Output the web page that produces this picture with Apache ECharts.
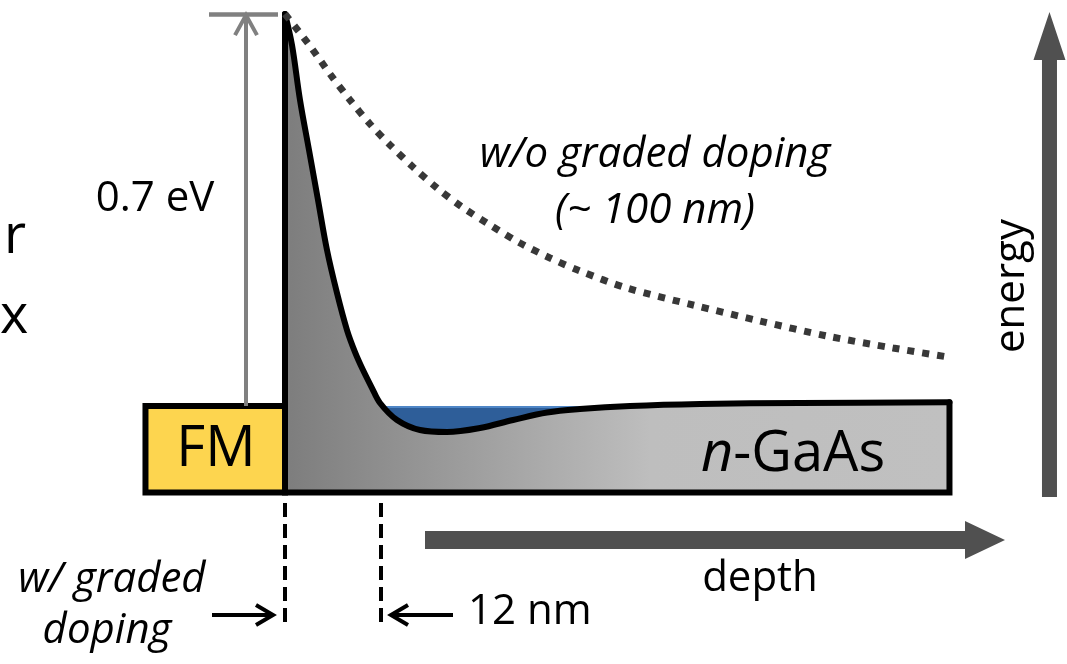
<!DOCTYPE html>
<html>
<head>
<meta charset="utf-8">
<script src="https://cdn.jsdelivr.net/npm/echarts@6/dist/echarts.min.js"></script>
<style>
html,body{margin:0;padding:0;background:#fff;}
#chart{width:1067px;height:664px;}
</style>
</head>
<body>
<div id="chart"></div>
<script>
// ---- data (depth in nm, energy in eV; Fermi level ~ 0) ----
const bandDepth  = [0, 0.875, 1.875, 3.0, 4.125, 5.25, 6.5, 7.75, 8.75, 9.75, 10.875, 11.875, 14.0, 16.875, 20.25, 24.375, 28.5, 32.75, 36.875, 43.125, 51.875, 64.375, 83.06];
const bandEnergy = [0.700, 0.6446, 0.5464, 0.4571, 0.3679, 0.2786, 0.2018, 0.1357, 0.0964, 0.0643, 0.0321, 0.0054, -0.025, -0.0429, -0.0464, -0.0393, -0.025, -0.0116, -0.0054, 0.0, 0.0036, 0.0054, 0.0066];
const dottedDepth  = [0, 3.125, 5.625, 8.125, 10.625, 13.125, 16.0, 19.0, 22.125, 25.625, 29.375, 33.125, 36.875, 42.75, 51.0, 59.375, 67.75, 76.0, 82.875];
const dottedEnergy = [0.700, 0.6429, 0.5929, 0.5464, 0.5036, 0.4661, 0.4268, 0.3893, 0.3554, 0.3232, 0.2911, 0.2643, 0.2411, 0.2107, 0.1804, 0.1518, 0.125, 0.1036, 0.0875];
const fmLeft = -17.44;
const bandBottom = -0.1545;
const gaasRight = 83.06;
const fermiLevel = -0.002;
const barrierHeight = 0.7;
const blueRange = [11, 45];
const markerDepths = [0, 12];
const markerRange = [-0.1732, -0.3946];
const energyArrow = [95.56, -0.1625, 95.56, 0.7036];
const depthArrow = [17.5, -0.2393, 90.0, -0.2393];
const barrierArrow = [-4.875, 0, -4.875, 0.698];
const barrierCap = [-9.5, -0.875];
const pointerLeft = [-9.125, -0.3732, -1.5, -0.3732];
const pointerRight = [21, -0.3732, 13.25, -0.3732];

const FONT = "'Open Sans', 'DejaVu Sans', sans-serif";

const chart = echarts.init(document.getElementById('chart'), null, {renderer: 'canvas'});

const thickStyles = [
  {w: 15, L: 48, H: 16},
  {w: 18, L: 40, H: 19}
];
function thickArrow(params, api) {
  const p0 = api.coord([api.value(0), api.value(1)]);
  const p1 = api.coord([api.value(2), api.value(3)]);
  const s = thickStyles[params.dataIndex];
  const dx = p1[0] - p0[0], dy = p1[1] - p0[1];
  const len = Math.hypot(dx, dy);
  const ux = dx / len, uy = dy / len, nx = -uy, ny = ux;
  const bx = p1[0] - ux * s.L, by = p1[1] - uy * s.L;
  const pts = [
    [p0[0] + nx * s.w / 2, p0[1] + ny * s.w / 2],
    [bx + nx * s.w / 2, by + ny * s.w / 2],
    [bx + nx * s.H, by + ny * s.H],
    [p1[0], p1[1]],
    [bx - nx * s.H, by - ny * s.H],
    [bx - nx * s.w / 2, by - ny * s.w / 2],
    [p0[0] - nx * s.w / 2, p0[1] - ny * s.w / 2]
  ];
  return {type: 'polygon', shape: {points: pts}, style: {fill: '#505050'}};
}

const thinStyles = [
  {color: '#808080', width: 4, L: 20, H: 11},
  {color: '#000', width: 4, L: 17, H: 10},
  {color: '#000', width: 4, L: 17, H: 10}
];
function thinArrow(params, api) {
  const p0 = api.coord([api.value(0), api.value(1)]);
  const p1 = api.coord([api.value(2), api.value(3)]);
  const s = thinStyles[params.dataIndex];
  const dx = p1[0] - p0[0], dy = p1[1] - p0[1];
  const len = Math.hypot(dx, dy);
  const ux = dx / len, uy = dy / len, nx = -uy, ny = ux;
  const bx = p1[0] - ux * s.L, by = p1[1] - uy * s.L;
  return {
    type: 'group',
    children: [
      {type: 'line', shape: {x1: p0[0], y1: p0[1], x2: p1[0] - ux, y2: p1[1] - uy},
       style: {stroke: s.color, lineWidth: s.width}},
      {type: 'polyline', shape: {points: [[bx + nx * s.H, by + ny * s.H], [p1[0], p1[1]], [bx - nx * s.H, by - ny * s.H]]},
       style: {stroke: s.color, lineWidth: s.width, fill: null, lineJoin: 'miter'}}
    ]
  };
}

const option = {
  animation: false,
  backgroundColor: '#fff',
  grid: {left: 0, right: 0, top: 0, bottom: 0},
  xAxis: {type: 'value', min: -35.625, max: 97.75, show: false},
  yAxis: {type: 'value', min: -0.4607, max: 0.725, show: false},
  series: [
    {
      name: 'electrons', type: 'line', z: 1, symbol: 'none',
      data: blueRange.map(d => [d, fermiLevel]),
      lineStyle: {color: '#4f86c6', width: 2},
      areaStyle: {color: '#2e5e99', opacity: 1, origin: bandBottom}
    },
    {
      name: 'band', type: 'line', z: 2, symbol: 'none', smooth: 0.35,
      data: bandDepth.map((d, i) => [d, bandEnergy[i]]),
      lineStyle: {color: '#000', width: 6, cap: 'round', join: 'round'},
      areaStyle: {
        opacity: 1, origin: bandBottom,
        color: new echarts.graphic.LinearGradient(0, 0, 1, 0, [
          {offset: 0, color: '#7d7d7d'},
          {offset: 0.55, color: '#bebebe'},
          {offset: 1, color: '#c0c0c0'}
        ])
      }
    },
    {
      name: 'outline', type: 'line', z: 3, symbol: 'none',
      data: [[0, barrierHeight], [0, bandBottom], [gaasRight, bandBottom], [gaasRight, bandEnergy[bandEnergy.length - 1]]],
      lineStyle: {color: '#000', width: 6, cap: 'round', join: 'miter'},
      markArea: {
        silent: true,
        itemStyle: {color: '#fdd54f', borderColor: '#000', borderWidth: 6},
        label: {show: false},
        data: [[{coord: [fmLeft, 0]}, {coord: [0, bandBottom]}]]
      },
      markLine: {
        silent: true, symbol: 'none', label: {show: false},
        lineStyle: {color: '#000', width: 4, type: [14, 7]},
        data: markerDepths.map(d => [{coord: [d, markerRange[0]]}, {coord: [d, markerRange[1]]}]).concat([
          [{coord: [barrierCap[0], barrierHeight], lineStyle: {color: '#808080', width: 4.5, type: 'solid'}},
           {coord: [barrierCap[1], barrierHeight]}]
        ])
      }
    },
    {
      name: 'w/o graded doping', type: 'line', z: 4, symbol: 'none', smooth: 0.3,
      data: dottedDepth.map((d, i) => [d, dottedEnergy[i]]),
      lineStyle: {color: '#383838', width: 7, type: [7, 8], cap: 'butt'}
    },
    {
      name: 'axes arrows', type: 'custom', z: 5, clip: false,
      renderItem: thickArrow,
      encode: {x: [0, 2], y: [1, 3]},
      data: [energyArrow, depthArrow]
    },
    {
      name: 'pointers', type: 'custom', z: 5, clip: false,
      renderItem: thinArrow,
      encode: {x: [0, 2], y: [1, 3]},
      data: [barrierArrow, pointerLeft, pointerRight]
    }
  ],
  graphic: [
    {type: 'text', x: 4, y: 238, style: {text: 'r', font: '54px ' + FONT, fill: '#000', align: 'left', verticalAlign: 'middle'}},
    {type: 'text', x: 0, y: 318, style: {text: 'x', font: '54px ' + FONT, fill: '#000', align: 'left', verticalAlign: 'middle'}},
    {type: 'text', x: 155, y: 199, style: {text: '0.7 eV', font: '42px ' + FONT, fill: '#000', align: 'center', verticalAlign: 'middle'}},
    {type: 'text', x: 216, y: 450, z: 10, style: {text: 'FM', font: '56px ' + FONT, fill: '#000', align: 'center', verticalAlign: 'middle'}},
    {type: 'text', x: 793, y: 455, z: 10, style: {text: '{i|n}-GaAs', font: '56px ' + FONT, fill: '#000', align: 'center', verticalAlign: 'middle',
      rich: {i: {fontStyle: 'italic', font: 'italic 56px ' + FONT, fill: '#000'}}}},
    {type: 'text', x: 655, y: 155, style: {text: 'w/o graded doping', font: 'italic 42px ' + FONT, fill: '#000', align: 'center', verticalAlign: 'middle'}},
    {type: 'text', x: 655, y: 211, style: {text: '(~ 100 nm)', font: 'italic 42px ' + FONT, fill: '#000', align: 'center', verticalAlign: 'middle'}},
    {type: 'text', x: 1012, y: 286, rotation: Math.PI / 2, style: {text: 'energy', font: '42px ' + FONT, fill: '#000', align: 'center', verticalAlign: 'middle'}},
    {type: 'text', x: 760, y: 579, style: {text: 'depth', font: '42px ' + FONT, fill: '#000', align: 'center', verticalAlign: 'middle'}},
    {type: 'text', x: 468, y: 612, style: {text: '12 nm', font: '42px ' + FONT, fill: '#000', align: 'left', verticalAlign: 'middle'}},
    {type: 'text', x: 112, y: 580, style: {text: 'w/ graded', font: 'italic 42px ' + FONT, fill: '#000', align: 'center', verticalAlign: 'middle'}},
    {type: 'text', x: 107, y: 631, style: {text: 'doping', font: 'italic 42px ' + FONT, fill: '#000', align: 'center', verticalAlign: 'middle'}}
  ]
};
chart.setOption(option);
</script>
</body>
</html>
